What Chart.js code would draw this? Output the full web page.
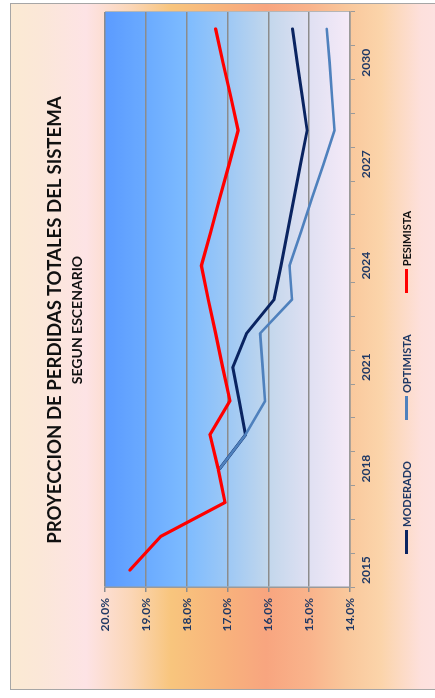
<!DOCTYPE html>
<html>
<head>
<meta charset="utf-8">
<script src="https://cdn.jsdelivr.net/npm/chart.js"></script>
<style>
  html, body { margin: 0; padding: 0; background: #fff; }
  body { width: 435px; height: 698px; overflow: hidden; position: relative; }
  /* el grafico se arma apaisado y se gira 90 grados a la izquierda */
  #marco {
    position: absolute; left: 0; top: 0; width: 698px; height: 435px;
    transform-origin: 0 0; transform: translate(0, 698px) rotate(-90deg);
  }
  #caja {
    position: absolute; left: 8px; top: 10px; width: 687px; height: 430px;
    border: 1px solid #a6a6a6; box-sizing: border-box;
    background: linear-gradient(to bottom,
      #fbead3 0px, #fbe7d8 30px, #fde3e5 75px, #fbd6b6 120px, #f8c57d 160px,
      #f8b27c 215px, #f8a57f 255px, #f9b48c 300px, #f9c79b 335px,
      #fbd4aa 370px, #fde0dc 410px, #fde2e2 430px);
  }
  #grafico { position: absolute; left: 0; top: 0; }
  .titulo {
    position: absolute; white-space: nowrap; transform: translateX(-50%);
    font-family: Lato, "Open Sans", sans-serif; font-weight: bold; line-height: 1;
    color: #111;
  }
  #titulo { left: 378px; top: 45px; font-size: 18.6px; }
  #subtitulo { left: 378px; top: 70px; font-size: 14px; }
  #leyenda {
    position: absolute; left: 144px; top: 401px; display: flex; gap: 41px;
    font-family: Lato, "Open Sans", sans-serif; font-weight: bold; font-size: 11px; line-height: 1;
  }
  #leyenda .item { display: flex; align-items: center; }
  #leyenda .linea { width: 24px; height: 3px; margin-right: 3px; }
</style>
</head>
<body>
<div id="marco">
  <div id="caja"></div>
  <canvas id="grafico" width="698" height="435"></canvas>
  <div class="titulo" id="titulo">PROYECCION DE PERDIDAS TOTALES DEL SISTEMA</div>
  <div class="titulo" id="subtitulo">SEGUN ESCENARIO</div>
  <div id="leyenda"></div>
</div>
<script>
const anios = ["2015", "2016", "2017", "2018", "2019", "2020", "2021", "2022", "2023",
  "2024", "2025", "2026", "2027", "2028", "2029", "2030", "2031"];
const aniosVisibles = ["2015", "2018", "2021", "2024", "2027", "2030"];

const moderado = [null, null, null, 17.19, 16.56, 16.71, 16.87, 16.53, 15.86,
  15.69, 15.53, 15.37, 15.21, 15.05, 15.17, 15.29, 15.41];
const optimista = [null, null, null, 17.19, 16.56, 16.08, 16.14, 16.2, 15.42,
  15.48, 15.2, 14.93, 14.65, 14.38, 14.44, 14.5, 14.57];
const pesimista = [19.39, 18.63, 17.06, 17.23, 17.43, 16.94, 17.12, 17.29, 17.47,
  17.64, 17.41, 17.19, 16.96, 16.74, 16.92, 17.11, 17.29];

const escalaMin = 14;
const escalaMax = 20;

const colorEje = "#1f3864";

const series = [
  { label: "MODERADO", data: moderado, color: "#0a2461", ancho: 3, orden: 3 },
  { label: "OPTIMISTA", data: optimista, color: "#4f81bd", ancho: 2.6, orden: 2 },
  { label: "PESIMISTA", data: pesimista, color: "#ff0000", ancho: 3.2, orden: 1 },
];

// relleno degradado del area de trazado
const fondoGrafico = {
  id: "fondoGrafico",
  beforeDraw(chart) {
    const { ctx, chartArea: { left, top, right, bottom } } = chart;
    const grad = ctx.createLinearGradient(0, top, 0, bottom);
    grad.addColorStop(0, "#5b9bff");
    grad.addColorStop(0.16, "#6aaaff");
    grad.addColorStop(0.33, "#7dbbff");
    grad.addColorStop(0.5, "#9dc8f5");
    grad.addColorStop(0.67, "#c3d7ec");
    grad.addColorStop(0.83, "#dfe0f2");
    grad.addColorStop(1, "#f6eaf8");
    ctx.save();
    ctx.fillStyle = grad;
    ctx.fillRect(left, top, right - left, bottom - top);
    ctx.strokeStyle = "#b5b5b5";
    ctx.lineWidth = 1;
    ctx.beginPath();
    ctx.moveTo(right + 0.5, top);
    ctx.lineTo(right + 0.5, bottom);
    ctx.stroke();
    ctx.restore();
  },
};

const config = {
  type: "line",
  data: {
    labels: anios,
    datasets: series.map((s) => ({
      label: s.label,
      data: s.data,
      borderColor: s.color,
      backgroundColor: s.color,
      borderWidth: s.ancho,
      order: s.orden,
      pointRadius: 0,
      tension: 0,
      borderJoinStyle: "round",
      borderCapStyle: "round",
    })),
  },
  options: {
    responsive: false,
    maintainAspectRatio: false,
    animation: false,
    layout: { padding: { left: 0, top: 105, right: 12, bottom: 0 } },
    plugins: {
      legend: { display: false },
      title: { display: false },
      tooltip: { enabled: false },
    },
    scales: {
      x: {
        offset: true,
        grid: {
          offset: true,
          drawOnChartArea: false,
          drawTicks: true,
          tickLength: 5,
          color: "#9a9a9a",
        },
        border: { color: "#9a9a9a", width: 1.5 },
        ticks: {
          autoSkip: false,
          maxRotation: 0,
          padding: 4,
          color: colorEje,
          font: { family: "Lato", weight: "bold", size: 12 },
          callback: function (valor) {
            const etiqueta = this.getLabelForValue(valor);
            return aniosVisibles.includes(etiqueta) ? etiqueta : "";
          },
        },
        afterFit: (escala) => { escala.height = 85; },
      },
      y: {
        min: escalaMin,
        max: escalaMax,
        grid: { color: "#8c8c8c", lineWidth: 1.5, tickLength: 5 },
        border: { color: "#9a9a9a", width: 1.5 },
        ticks: {
          stepSize: 1,
          padding: 6,
          color: colorEje,
          font: { family: "Lato", weight: "bold", size: 12 },
          callback: (valor) => valor.toFixed(1) + "%",
        },
        afterFit: (escala) => { escala.width = 111; },
      },
    },
  },
  plugins: [fondoGrafico],
};

new Chart(document.getElementById("grafico"), config);

// leyenda en html, con el mismo orden de las series
const leyenda = document.getElementById("leyenda");
series.forEach((s) => {
  const item = document.createElement("div");
  item.className = "item";
  item.innerHTML = `<span class="linea" style="background:${s.color}"></span><span style="color:${s.label === "PESIMISTA" ? "#111" : colorEje}">${s.label}</span>`;
  leyenda.appendChild(item);
});
</script>
</body>
</html>
